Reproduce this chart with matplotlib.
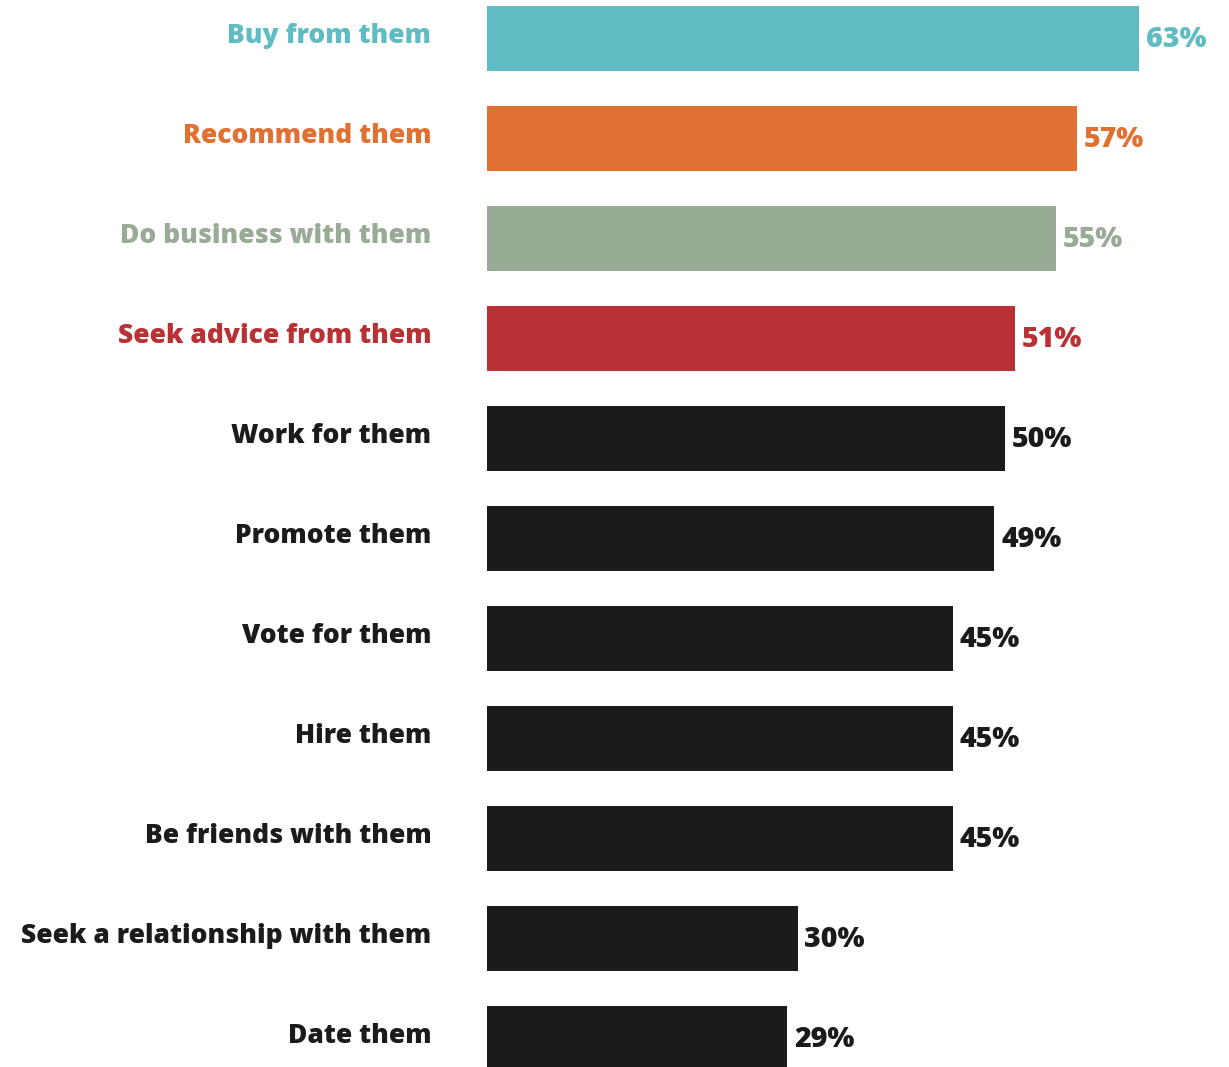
import matplotlib.pyplot as plt

labels = [
    "Buy from them",
    "Recommend them",
    "Do business with them",
    "Seek advice from them",
    "Work for them",
    "Promote them",
    "Vote for them",
    "Hire them",
    "Be friends with them",
    "Seek a relationship with them",
    "Date them",
]
values = [63, 57, 55, 51, 50, 49, 45, 45, 45, 30, 29]
colors = [
    "#5FBCC3", "#E07132", "#98AB95", "#B73135",
    "#1C1A1B", "#1C1A1B", "#1C1A1B", "#1C1A1B",
    "#1C1A1B", "#1C1A1B", "#1C1A1B",
]

plt.rcParams["font.family"] = ["Open Sans", "DejaVu Sans"]

fig = plt.figure(figsize=(12.29, 10.67), dpi=100)
ax = fig.add_axes([487 / 1229, 0, 1 - 487 / 1229, 1])

ypos = list(range(len(labels)))
ax.barh(ypos, values, height=0.65, color=colors)

for y, v, c, lab in zip(ypos, values, colors, labels):
    ax.annotate(f"{v}%", (v, y), xytext=(5, -1), textcoords="offset points",
                ha="left", va="center", color=c, fontsize=20.5, fontweight=800)
    ax.annotate(lab, (0, y), xytext=(-40, 2), textcoords="offset points",
                ha="right", va="center", color=c, fontsize=19, fontweight=800,
                annotation_clip=False)

ax.set_xlim(0, 742 / 10.35)
ax.set_ylim(10.285, -0.385)
ax.axis("off")

fig.savefig("out.png", dpi=100)
